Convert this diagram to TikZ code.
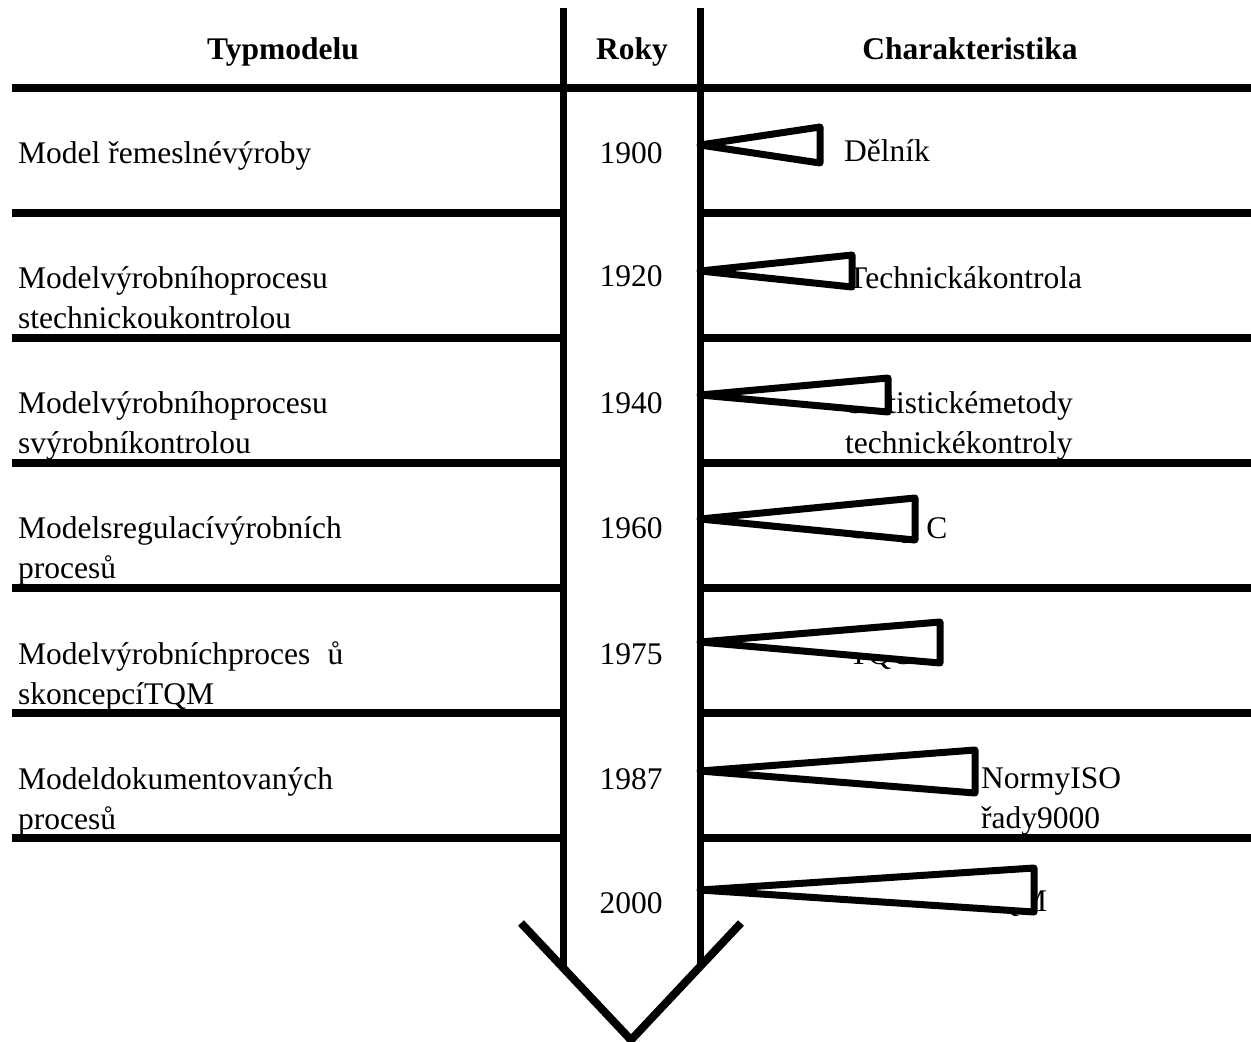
\documentclass[tikz,border=0pt]{standalone}
\usepackage{fontspec}
\setmainfont{Liberation Serif}
\begin{document}
\begin{tikzpicture}[x=1pt,y=-1pt,
  txt/.style={anchor=base west, inner sep=0pt, font=\fontsize{31.5}{40}\selectfont},
  yr/.style={anchor=base, inner sep=0pt, font=\fontsize{31.5}{40}\selectfont},
  head/.style={anchor=base, inner sep=0pt, font=\fontsize{31.5}{40}\selectfont\bfseries},
  rule/.style={line width=8pt},
  axis/.style={line width=7pt},
  chev/.style={line width=8pt, line join=miter},
  flag/.style={line width=7pt, line join=round, fill=white}]
\useasboundingbox (0,0) rectangle (1251,1042);

% horizontal rules
\draw[rule] (12,88) -- (1251,88);
\foreach \y in {213,338,463,588,713,838}{
  \draw[rule] (12,\y) -- (563,\y);
  \draw[rule] (700,\y) -- (1251,\y);
}

% time axis: two shafts and the arrow head
\coordinate (chl) at (521,923);
\coordinate (cha) at (631,1040);
\coordinate (chr) at (741,923);
\coordinate (lt) at (563,8);
\coordinate (lb) at (563,967.7);
\coordinate (rt) at (700,8);
\coordinate (rb) at (700,966.6);
\draw[axis] (lt) -- (lb);
\draw[axis] (rt) -- (rb);
\draw[chev] (chl) -- (cha) -- (chr);

% headings
\node[head] (h1) at (283,59) {Typmodelu};
\node[head] (h2) at (632,59) {Roky};
\node[head] (h3) at (970,59) {Charakteristika};

% model types
\node[txt] (m1)  at (18,163) {Model řemeslnévýroby};
\node[txt] (m2a) at (18,288) {Modelvýrobníhoprocesu};
\node[txt] (m2b) at (18,328) {stechnickoukontrolou};
\node[txt] (m3a) at (18,413) {Modelvýrobníhoprocesu};
\node[txt] (m3b) at (18,453) {svýrobníkontrolou};
\node[txt] (m4a) at (18,538) {Modelsregulacívýrobních};
\node[txt] (m4b) at (18,578) {procesů};
\node[txt] (m5a) at (18,664) {Modelvýrobníchproces\hspace{0.55em}ů};
\node[txt] (m5b) at (18,704) {skoncepcíTQM};
\node[txt] (m6a) at (18,789) {Modeldokumentovaných};
\node[txt] (m6b) at (18,829) {procesů};

% years
\node[yr] (y1) at (631,163) {1900};
\node[yr] (y2) at (631,286) {1920};
\node[yr] (y3) at (631,413) {1940};
\node[yr] (y4) at (631,538) {1960};
\node[yr] (y5) at (631,664) {1975};
\node[yr] (y6) at (631,789) {1987};
\node[yr] (y7) at (631,913) {2000};

% characteristics
\node[txt] (c1)  at (844,161) {Dělník};
\node[txt] (c2)  at (848,288) {Technickákontrola};
\node[txt] (c3a) at (847,413) {Statistickémetody};
\node[txt] (c3b) at (845,453) {technickékontroly};
\node[txt] (c4)  at (850,538) {S\hspace{18pt}Q\hspace{18pt}C};
\node[txt] (c5)  at (849,664) {TQC};
\node[txt] (c6a) at (981,788) {NormyISO};
\node[txt] (c6b) at (981,828) {řady9000};
\node[txt] (c7)  at (977,911) {TQM};

% pointer flags on the axis
\draw[flag] (700,145) -- (820,127) -- (820,163) -- cycle;
\draw[flag] (700,271) -- (852,255) -- (852,287) -- cycle;
\draw[flag] (700,395) -- (888,378) -- (888,412) -- cycle;
\draw[flag] (700,519) -- (915,498) -- (915,540) -- cycle;
\draw[flag] (700,642) -- (940,622) -- (940,663) -- cycle;
\draw[flag] (700,771) -- (975,750) -- (975,793) -- cycle;
\draw[flag] (700,890) -- (1034,868) -- (1034,912) -- cycle;
\end{tikzpicture}
\end{document}
